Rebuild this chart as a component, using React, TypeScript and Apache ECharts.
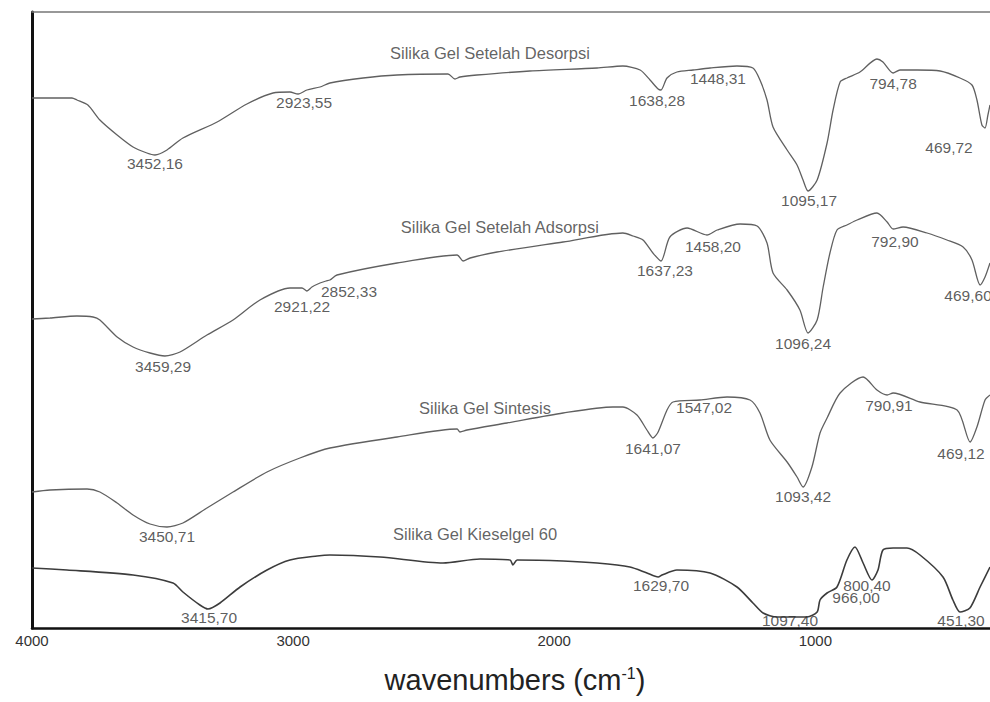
import React, { useEffect, useRef } from "react";
import * as echarts from "echarts";

// x: wavenumber (cm-1), y: relative transmittance (arbitrary offset units)
const desorpsi: [number, number][] = [
  [4000, 530], [3847, 530], [3828, 528], [3786, 523], [3740, 508], [3674, 493], [3613, 481], [3560, 475],
  [3529, 473], [3483, 478], [3422, 490], [3291, 506], [3177, 524], [3077, 535], [3012, 536], [2981, 534],
  [2947, 538], [2897, 541], [2859, 545], [2732, 550], [2602, 553], [2407, 554], [2380, 549], [2361, 551],
  [2296, 553], [2093, 557], [1836, 560], [1737, 562], [1671, 558], [1633, 548], [1602, 539], [1591, 538],
  [1568, 550], [1530, 556], [1468, 558], [1403, 560], [1300, 562], [1239, 560], [1212, 548], [1185, 528],
  [1162, 501], [1108, 478], [1070, 463], [1047, 448], [1028, 437], [993, 448], [955, 485], [932, 518],
  [905, 546], [879, 550], [829, 556], [764, 569], [741, 566], [702, 555], [676, 558], [610, 558],
  [522, 557], [446, 550], [400, 543], [381, 528], [362, 503], [350, 500], [339, 513], [331, 523],
];

const adsorpsi: [number, number][] = [
  [4000, 309], [3931, 310], [3828, 312], [3766, 311], [3740, 308], [3674, 291], [3613, 281], [3548, 275],
  [3491, 272], [3433, 276], [3330, 293], [3230, 308], [3127, 328], [3012, 340], [2966, 340], [2947, 337],
  [2928, 341], [2897, 345], [2874, 347], [2859, 348], [2832, 353], [2602, 365], [2372, 373], [2349, 367],
  [2322, 370], [2219, 376], [1966, 386], [1737, 395], [1698, 392], [1660, 388], [1622, 375], [1591, 367],
  [1557, 391], [1491, 400], [1415, 393], [1376, 398], [1288, 404], [1223, 402], [1185, 385], [1162, 355],
  [1108, 338], [1059, 318], [1028, 295], [993, 308], [970, 341], [944, 375], [917, 398], [879, 403],
  [840, 408], [764, 415], [725, 406], [702, 399], [664, 401], [572, 395], [496, 388], [434, 381],
  [400, 368], [369, 343], [350, 351], [331, 365],
];

const sintesis: [number, number][] = [
  [4000, 136], [3931, 138], [3789, 139], [3740, 136], [3674, 125], [3613, 113], [3548, 104], [3483, 101],
  [3422, 105], [3330, 120], [3230, 136], [3100, 156], [2974, 170], [2859, 180], [2602, 191], [2372, 199],
  [2361, 196], [2334, 198], [2181, 205], [1966, 215], [1775, 221], [1737, 221], [1683, 213], [1645, 198],
  [1622, 190], [1602, 196], [1568, 218], [1545, 226], [1442, 228], [1338, 231], [1250, 228], [1212, 215],
  [1174, 188], [1108, 166], [1070, 151], [1047, 141], [1013, 161], [982, 195], [955, 210], [905, 235],
  [817, 251], [764, 238], [725, 233], [702, 235], [599, 226], [457, 218], [407, 186], [381, 201],
  [350, 228], [331, 233],
];

const kieselgel: [number, number][] = [
  [4000, 60], [3866, 58], [3613, 53], [3460, 45], [3422, 36], [3357, 23], [3326, 19], [3280, 25],
  [3203, 41], [3100, 58], [3012, 68], [2908, 72], [2859, 73], [2667, 71], [2426, 65], [2284, 69],
  [2169, 68], [2158, 63], [2142, 68], [1966, 67], [1836, 65], [1710, 61], [1645, 55], [1602, 51],
  [1587, 53], [1530, 58], [1403, 55], [1300, 41], [1239, 25], [1200, 15], [1147, 11], [1032, 11],
  [993, 16], [982, 28], [955, 35], [917, 41], [879, 68], [848, 81], [817, 65], [783, 48],
  [760, 58], [741, 78], [702, 80], [649, 80], [599, 73], [511, 51], [473, 28], [446, 16],
  [408, 20], [369, 41], [331, 61],
];

const tickLabels = [4000, 3000, 2000, 1000];

const spectrumNames = [
  "Silika Gel Setelah Desorpsi",
  "Silika Gel Setelah Adsorpsi",
  "Silika Gel Sintesis",
  "Silika Gel Kieselgel 60",
];

// spectrum name labels: [wavenumber, value]
const nameAnchors: [number, number][] = [
  [2246, 575],
  [2208, 401],
  [2265, 220],
  [2303, 94],
];

// peak labels: [text, wavenumber, value]
const peakLabels: [string, number, number][] = [
  ["3452,16", 3529, 465], ["2923,55", 2958, 526], ["1638,28", 1606, 528], ["1448,31", 1373, 550],
  ["794,78", 702, 545], ["469,72", 488, 481], ["1095,17", 1024, 428],
  ["3459,29", 3498, 262], ["2921,22", 2966, 322], ["2852,33", 2786, 337], ["1637,23", 1576, 358],
  ["1458,20", 1392, 382], ["1096,24", 1047, 285], ["792,90", 695, 387], ["469,60", 415, 333],
  ["3450,71", 3483, 92], ["1641,07", 1622, 180], ["1547,02", 1426, 221], ["1093,42", 1047, 132],
  ["790,91", 718, 223], ["469,12", 442, 175],
  ["3415,70", 3322, 11], ["1629,70", 1591, 43], ["1097,40", 1097, 8], ["966,00", 844, 31],
  ["800,40", 802, 43], ["451,30", 442, 8],
];

const FONT = "'Liberation Sans', Arial, Helvetica, sans-serif";

export default function App() {
  const ref = useRef<HTMLDivElement>(null);
  useEffect(() => {
    if (!ref.current) return;
    const chart = echarts.init(ref.current, undefined, { renderer: "svg" });
    const spectra = [desorpsi, adsorpsi, sintesis, kieselgel];
    const lineSeries = spectra.map((d, i) => ({
      type: "line",
      name: spectrumNames[i],
      data: d,
      showSymbol: false,
      symbol: "none",
      smooth: 0.25,
      lineStyle: { color: i === 3 ? "#3c3c3c" : "#606060", width: i === 3 ? 1.6 : 1.3 },
      silent: true,
      z: 3,
    }));
    const option = {
      animation: false,
      backgroundColor: "#ffffff",
      textStyle: { fontFamily: FONT },
      grid: { left: 32, top: 12, right: 0, height: 616, outerBoundsMode: "none" },
      xAxis: [
        {
          type: "value",
          min: 331,
          max: 4000,
          inverse: true,
          position: "bottom",
          axisLine: { show: true, onZero: false, lineStyle: { color: "#111", width: 2.5 } },
          axisTick: { show: false },
          splitLine: { show: false },
          axisLabel: {
            customValues: tickLabels,
            showMinLabel: true,
            showMaxLabel: true,
            formatter: (v: number) => String(v),
            color: "#333",
            fontSize: 15,
            fontFamily: FONT,
            margin: 5,
          },
        },
        {
          type: "value",
          min: 331,
          max: 4000,
          inverse: true,
          position: "top",
          axisLine: { show: true, onZero: false, lineStyle: { color: "#777", width: 1.5 } },
          axisTick: { show: false },
          axisLabel: { show: false },
          splitLine: { show: false },
        },
      ],
      yAxis: {
        type: "value",
        min: 0,
        max: 616,
        axisLine: { show: true, lineStyle: { color: "#111", width: 3 } },
        axisTick: { show: false },
        axisLabel: { show: false },
        splitLine: { show: false },
      },
      series: [
        ...lineSeries,
        {
          type: "scatter",
          name: "names",
          symbolSize: 0,
          silent: true,
          z: 5,
          data: nameAnchors.map((a, i) => ({ name: spectrumNames[i], value: a })),
          label: {
            show: true,
            position: "inside",
            formatter: (p: any) => p.name,
            color: "#3a3a3a",
            fontSize: 16.5,
            fontFamily: FONT,
          },
        },
        {
          type: "scatter",
          name: "peaks",
          symbolSize: 0,
          silent: true,
          z: 5,
          data: peakLabels.map((p) => ({ name: p[0], value: [p[1], p[2]] })),
          label: {
            show: true,
            position: "inside",
            formatter: (p: any) => p.name,
            color: "#333",
            fontSize: 15.5,
            fontFamily: FONT,
          },
        },
      ],
      graphic: [
        {
          type: "text",
          x: 515,
          y: 680,
          style: {
            text: "wavenumbers (cm{sup|-1})",
            fill: "#222",
            fontSize: 29,
            fontFamily: FONT,
            align: "center",
            verticalAlign: "middle",
            rich: {
              sup: { fontSize: 16, fontFamily: FONT, fill: "#222", verticalAlign: "top", padding: [0, 0, 14, 0] },
            },
          },
        },
      ],
    };
    chart.setOption(option as any);
    return () => chart.dispose();
  }, []);
  return (
    <div
      ref={ref}
      style={{ position: "absolute", left: 0, top: 0, width: 990, height: 702 }}
    />
  );
}
